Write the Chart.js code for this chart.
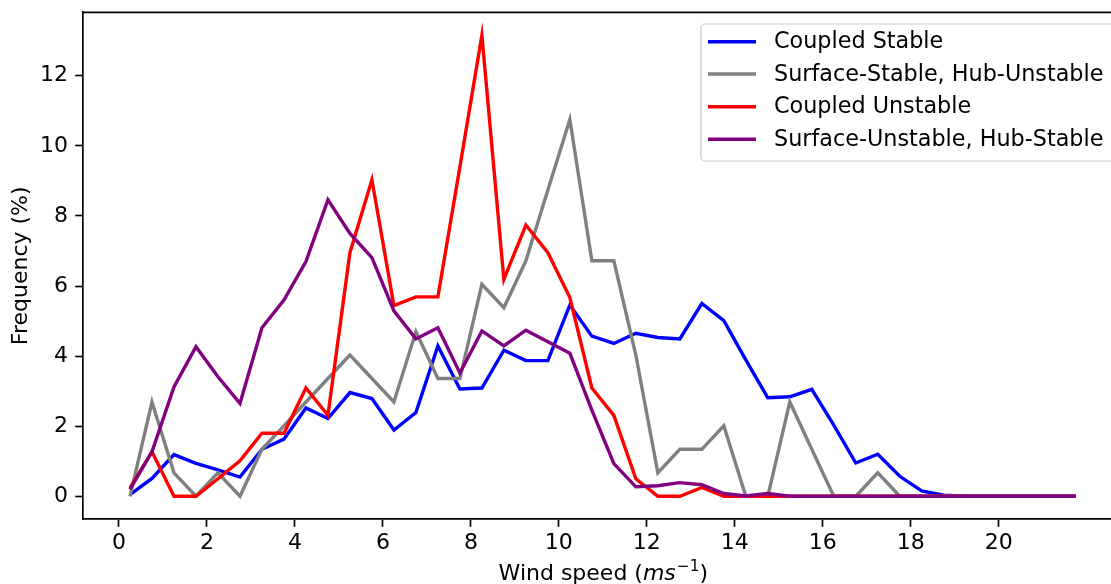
<!DOCTYPE html>
<html>
<head>
<meta charset="utf-8">
<script src="https://cdn.jsdelivr.net/npm/chart.js@4.4.1/dist/chart.umd.min.js"></script>
<style>
    html, body { margin: 0; padding: 0; overflow: hidden; background: #fff; }
    #wrap { width: 1124px; height: 584px; position: relative; }
</style>
</head>
<body>
<div id="wrap"><canvas id="freq-chart"></canvas></div>
<script>
// wind speed bin centres (m/s)
const windSpeed = [0.25, 0.75, 1.25, 1.75, 2.25, 2.75, 3.25, 3.75, 4.25, 4.75, 5.25, 5.75, 6.25, 6.75, 7.25, 7.75,
    8.25, 8.75, 9.25, 9.75, 10.25, 10.75, 11.25, 11.75, 12.25, 12.75, 13.25, 13.75, 14.25, 14.75, 15.25, 15.75,
    16.25, 16.75, 17.25, 17.75, 18.25, 18.75, 19.25, 19.75, 20.25, 20.75, 21.25, 21.75];

const coupledStable = [0.05, 0.51, 1.19, 0.94, 0.75, 0.55, 1.34, 1.63, 2.52, 2.22, 2.96, 2.79, 1.89, 2.39, 4.29, 3.06,
    3.09, 4.17, 3.87, 3.87, 5.46, 4.57, 4.36, 4.65, 4.53, 4.49, 5.50, 5.01, 3.89, 2.81, 2.84, 3.05,
    2.03, 0.95, 1.20, 0.57, 0.15, 0.03, 0, 0, 0, 0, 0, 0];

const surfStableHubUnstable = [0, 2.69, 0.67, 0, 0.67, 0, 1.34, 2.01, 2.69, 3.36, 4.03, 3.36, 2.69, 4.70, 3.36, 3.36,
    6.05, 5.38, 6.72, 8.74, 10.75, 6.72, 6.72, 4.03, 0.67, 1.34, 1.34, 2.01, 0, 0, 2.69, 1.34,
    0, 0, 0.67, 0, 0, 0, 0, 0, 0, 0, 0, 0];

const coupledUnstable = [0.24, 1.27, 0, 0, 0.50, 1.01, 1.80, 1.80, 3.09, 2.31, 6.95, 9.03, 5.44, 5.69, 5.69, 9.40,
    13.15, 6.19, 7.74, 6.95, 5.67, 3.09, 2.31, 0.50, 0, 0, 0.25, 0, 0, 0, 0, 0,
    0, 0, 0, 0, 0, 0, 0, 0, 0, 0, 0, 0];

const surfUnstableHubStable = [0.20, 1.27, 3.12, 4.27, 3.41, 2.65, 4.81, 5.60, 6.70, 8.46, 7.50, 6.81, 5.29, 4.49, 4.81, 3.52,
    4.72, 4.29, 4.74, 4.41, 4.08, 2.46, 0.93, 0.27, 0.30, 0.39, 0.33, 0.08, 0.01, 0.08, 0, 0,
    0, 0, 0, 0, 0, 0, 0, 0, 0, 0, 0, 0];

const seriesLabels = ['Coupled Stable', 'Surface-Stable, Hub-Unstable', 'Coupled Unstable', 'Surface-Unstable, Hub-Stable'];
const seriesColors = ['#0000ff', '#808080', '#ff0000', '#800080'];

const xTicks = [0, 2, 4, 6, 8, 10, 12, 14, 16, 18, 20];
const yTicks = [0, 2, 4, 6, 8, 10, 12];

const FONT = 'DejaVu Sans';
const FS = 22;
const LW = 3.4;

// matplotlib-style legend box in the upper right
const legendBox = {
    id: 'legendBox',
    afterDraw(chart) {
        const ctx = chart.ctx;
        const x0 = 701, y0 = 24, x1 = 1116, y1 = 161, r = 4;
        ctx.save();
        ctx.beginPath();
        ctx.roundRect(x0, y0, x1 - x0, y1 - y0, r);
        ctx.fillStyle = 'rgba(255,255,255,0.8)';
        ctx.fill();
        ctx.lineWidth = 1.2;
        ctx.strokeStyle = '#cccccc';
        ctx.stroke();
        const rows = [41.7, 74, 106.7, 139.3];
        ctx.font = '22.3px "' + FONT + '"';
        ctx.textBaseline = 'middle';
        ctx.textAlign = 'left';
        chart.data.datasets.forEach((ds, i) => {
            ctx.beginPath();
            ctx.moveTo(708, rows[i]);
            ctx.lineTo(756, rows[i]);
            ctx.strokeStyle = ds.borderColor;
            ctx.lineWidth = LW;
            ctx.stroke();
            ctx.fillStyle = '#000';
            ctx.fillText(ds.label, 774, rows[i] + 1);
        });
        ctx.restore();
    }
};

// top and right spines
const frame = {
    id: 'frame',
    afterDatasetsDraw(chart) {
        const { ctx, chartArea: a } = chart;
        ctx.save();
        ctx.strokeStyle = '#000';
        ctx.lineWidth = 1.67;
        ctx.beginPath();
        ctx.moveTo(a.left, a.top);
        ctx.lineTo(a.right, a.top);
        ctx.lineTo(a.right, a.bottom);
        ctx.stroke();
        ctx.restore();
    }
};

// x axis label with italic units and superscript, like mathtext
const xLabel = {
    id: 'xLabel',
    afterDraw(chart) {
        const { ctx, chartArea: a } = chart;
        const parts = [
            { t: 'Wind speed (', f: FS + 'px "' + FONT + '"', dy: 0 },
            { t: 'ms', f: 'italic ' + FS + 'px "' + FONT + '"', dy: 0 },
            { t: '\u22121', f: (FS * 0.7) + 'px "' + FONT + '"', dy: -9 },
            { t: ')', f: FS + 'px "' + FONT + '"', dy: 0 }
        ];
        ctx.save();
        ctx.textBaseline = 'alphabetic';
        ctx.textAlign = 'left';
        ctx.fillStyle = '#000';
        let total = 0;
        parts.forEach(p => { ctx.font = p.f; p.w = ctx.measureText(p.t).width; total += p.w; });
        let x = (a.left + a.right) / 2 - total / 2;
        const base = 579.5;
        parts.forEach(p => {
            ctx.font = p.f;
            ctx.fillText(p.t, x, base + p.dy);
            x += p.w + (p.t === 'ms' ? 1 : 0);
        });
        ctx.restore();
    }
};

const datasets = [coupledStable, surfStableHubUnstable, coupledUnstable, surfUnstableHubStable].map((vals, i) => ({
    label: seriesLabels[i],
    data: vals.map((v, j) => ({ x: windSpeed[j], y: v })),
    borderColor: seriesColors[i],
    backgroundColor: seriesColors[i],
    borderWidth: LW,
    pointRadius: 0,
    tension: 0,
    fill: false,
    order: 4 - i,
}));

new Chart(document.getElementById('freq-chart'), {
    type: 'line',
    data: { datasets },
    options: {
        responsive: true,
        maintainAspectRatio: false,
        animation: false,
        layout: { padding: { top: 12.3, right: 1, left: 0, bottom: 0 } },
        plugins: { legend: { display: false }, tooltip: { enabled: false } },
        scales: {
            x: {
                type: 'linear',
                min: -0.825,
                max: 22.825,
                afterBuildTicks: axis => { axis.ticks = xTicks.map(v => ({ value: v })); },
                afterFit: axis => { axis.height = 64.7; axis.paddingLeft = 0; axis.paddingRight = 0; },
                grid: { drawOnChartArea: false, drawTicks: true, tickLength: 7.5, tickColor: '#000', tickWidth: 1.67 },
                border: { display: true, color: '#000', width: 1.67 },
                ticks: { color: '#000', font: { family: FONT, size: FS }, padding: 3, maxRotation: 0, autoSkip: false },
                title: { display: false }
            },
            y: {
                type: 'linear',
                min: -0.657,
                max: 13.81,
                afterBuildTicks: axis => { axis.ticks = yTicks.map(v => ({ value: v })); },
                afterFit: axis => { axis.width = 82.7; axis.paddingTop = 0; axis.paddingBottom = 0; },
                grid: { drawOnChartArea: false, drawTicks: true, tickLength: 7.5, tickColor: '#000', tickWidth: 1.67 },
                border: { display: true, color: '#000', width: 1.67 },
                ticks: { color: '#000', font: { family: FONT, size: FS }, padding: 7.3 },
                title: {
                    display: true,
                    text: 'Frequency (%)',
                    color: '#000',
                    font: { family: FONT, size: FS, lineHeight: 1 },
                    padding: { top: 10, bottom: 0 }
                }
            }
        }
    },
    plugins: [frame, legendBox, xLabel]
});
</script>
</body>
</html>
